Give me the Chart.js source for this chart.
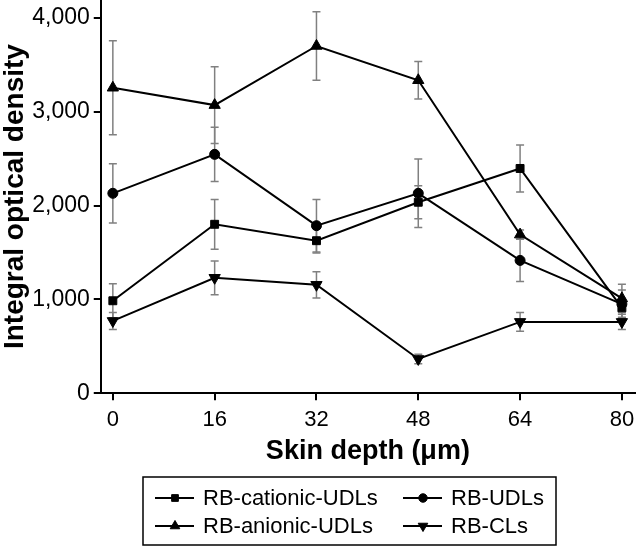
<!DOCTYPE html>
<html lang="en">
<head>
    <meta charset="UTF-8">
    <title>Integral optical density vs skin depth</title>
    <script src="https://cdn.jsdelivr.net/npm/chart.js"></script>
    <style>
        body { margin: 0; background: #fff; }
        #chart { display: block; }
    </style>
</head>
<body>
<canvas id="chart" width="636" height="547"></canvas>
<script>
    // values
    const depths = [0, 16, 32, 48, 64, 80];
    const yTicks = [0, 1000, 2000, 3000, 4000];

    const cationic = [985, 1800, 1625, 2035, 2395, 910];
    const cationicErr = [180, 265, 130, 175, 250, 100];

    const udl = [2130, 2545, 1785, 2130, 1415, 950];
    const udlErr = [315, 290, 280, 365, 225, 150];

    const anionic = [3255, 3070, 3700, 3335, 1690, 1010];
    const anionicErr = [500, 410, 365, 200, 50, 150];

    const cls = [770, 1230, 1155, 365, 760, 760];
    const clsErr = [90, 180, 140, 50, 100, 80];

    const FONT = "'Liberation Sans', Arial, sans-serif";

    function toPoints(values) {
        return depths.map((d, i) => ({x: d, y: values[i]}));
    }

    function makeSet(label, values, errors, style, radius, rotation) {
        return {
            label: label,
            data: toPoints(values),
            errors: errors,
            borderColor: '#000',
            backgroundColor: '#000',
            borderWidth: 2,
            pointStyle: style,
            pointRadius: radius,
            pointRotation: rotation || 0,
            pointBorderWidth: 1,
            fill: false,
            tension: 0
        };
    }

    // gray error bars, drawn behind the lines
    const errorBars = {
        id: 'errorBars',
        beforeDatasetsDraw(chart) {
            const ctx = chart.ctx;
            const ys = chart.scales.y;
            ctx.save();
            ctx.strokeStyle = '#808080';
            ctx.lineWidth = 1.5;
            chart.data.datasets.forEach((ds, i) => {
                const meta = chart.getDatasetMeta(i);
                meta.data.forEach((pt, j) => {
                    const v = ds.data[j].y;
                    const e = ds.errors[j];
                    const top = ys.getPixelForValue(v + e);
                    const bot = ys.getPixelForValue(v - e);
                    ctx.beginPath();
                    ctx.moveTo(pt.x, top);
                    ctx.lineTo(pt.x, bot);
                    ctx.moveTo(pt.x - 4, top);
                    ctx.lineTo(pt.x + 4, top);
                    ctx.moveTo(pt.x - 4, bot);
                    ctx.lineTo(pt.x + 4, bot);
                    ctx.stroke();
                });
            });
            ctx.restore();
        }
    };

    // boxed legend under the axis title: line with marker in the middle
    const boxLegend = {
        id: 'boxLegend',
        afterDraw(chart) {
            const ctx = chart.ctx;
            const box = {left: 143, top: 477, right: 556, bottom: 545};
            const cols = [155, 403];
            const rows = [498, 526];
            ctx.save();
            ctx.strokeStyle = '#000';
            ctx.lineWidth = 1.5;
            ctx.strokeRect(box.left, box.top, box.right - box.left, box.bottom - box.top);
            ctx.font = '22px ' + FONT;
            ctx.textBaseline = 'middle';
            ctx.fillStyle = '#000';
            chart.data.datasets.forEach((ds, k) => {
                const x = cols[k % 2];
                const y = rows[Math.floor(k / 2)];
                ctx.lineWidth = 2;
                ctx.beginPath();
                ctx.moveTo(x, y);
                ctx.lineTo(x + 39, y);
                ctx.stroke();
                ctx.lineWidth = 1;
                Chart.helpers.drawPoint(ctx, {
                    pointStyle: ds.pointStyle,
                    rotation: ds.pointRotation,
                    radius: ds.pointRadius * 0.85,
                    borderWidth: 1
                }, x + 20, y);
                ctx.fillText(ds.label, x + 48, y + 1);
            });
            ctx.restore();
        }
    };

    const ctx = document.getElementById('chart').getContext('2d');
    const chart = new Chart(ctx, {
        type: 'line',
        data: {
            datasets: [
                makeSet('RB-cationic-UDLs', cationic, cationicErr, 'rect', 5.6),
                makeSet('RB-UDLs', udl, udlErr, 'circle', 5),
                makeSet('RB-anionic-UDLs', anionic, anionicErr, 'triangle', 6.5),
                makeSet('RB-CLs', cls, clsErr, 'triangle', 6.5, 180)
            ]
        },
        options: {
            responsive: false,
            animation: false,
            layout: {autoPadding: false, padding: {left: 0, right: 1, top: 0, bottom: 79}},
            plugins: {
                legend: {display: false},
                tooltip: {enabled: false}
            },
            scales: {
                x: {
                    type: 'linear',
                    min: -1.9,
                    max: 82.06,
                    afterBuildTicks: (axis) => { axis.ticks = depths.map(v => ({value: v})); },
                    afterFit: (axis) => { axis.paddingLeft = 0; axis.paddingRight = 0; },
                    border: {display: true, color: '#000', width: 2},
                    grid: {drawOnChartArea: false, drawTicks: true, tickLength: 7, color: '#000', lineWidth: 2},
                    ticks: {color: '#000', font: {family: FONT, size: 22}, padding: 7, maxRotation: 0},
                    title: {display: true, text: 'Skin depth (μm)', color: '#000',
                        font: {family: FONT, size: 27, weight: 'bold'}, padding: {top: -5, bottom: 0}}
                },
                y: {
                    min: 0,
                    max: 4190,
                    afterBuildTicks: (axis) => { axis.ticks = yTicks.map(v => ({value: v})); },
                    afterFit: (axis) => { axis.paddingTop = 0; },
                    border: {display: true, color: '#000', width: 2},
                    grid: {drawOnChartArea: false, drawTicks: true, tickLength: 7, color: '#000', lineWidth: 2},
                    ticks: {
                        color: '#000', font: {family: FONT, size: 23}, padding: 4,
                        callback: (v) => v.toLocaleString('en-US')
                    },
                    title: {display: true, text: 'Integral optical density', color: '#000',
                        font: {family: FONT, size: 28, weight: 'bold', lineHeight: 0.9},
                        padding: {top: 3, bottom: 0}}
                }
            }
        },
        plugins: [errorBars, boxLegend]
    });
</script>
</body>
</html>
